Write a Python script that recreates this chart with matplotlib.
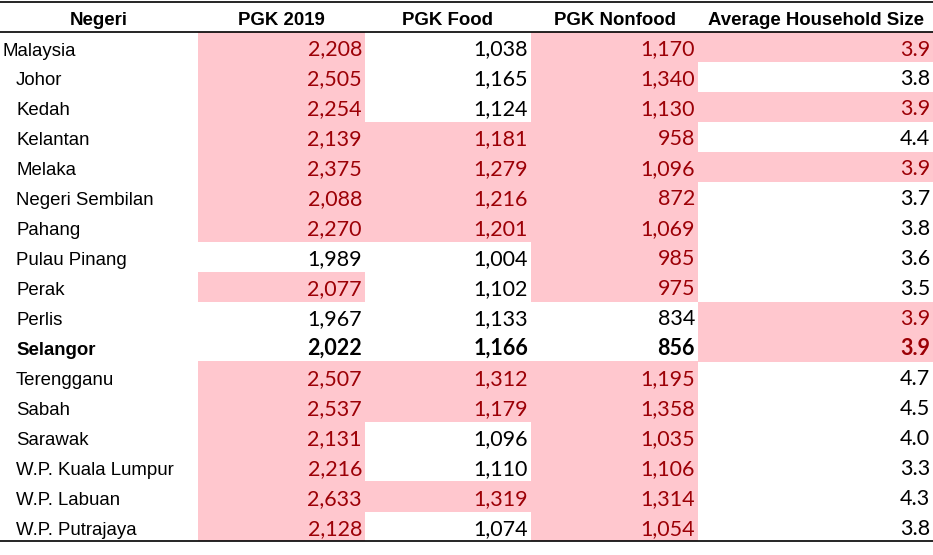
import matplotlib
matplotlib.use("Agg")
import matplotlib.pyplot as plt
from matplotlib.patches import Rectangle

# table data
negeri = ["Malaysia", "Johor", "Kedah", "Kelantan", "Melaka", "Negeri Sembilan",
          "Pahang", "Pulau Pinang", "Perak", "Perlis", "Selangor", "Terengganu",
          "Sabah", "Sarawak", "W.P. Kuala Lumpur", "W.P. Labuan", "W.P. Putrajaya"]
pgk_2019 = [2208, 2505, 2254, 2139, 2375, 2088, 2270, 1989, 2077, 1967, 2022,
            2507, 2537, 2131, 2216, 2633, 2128]
pgk_food = [1038, 1165, 1124, 1181, 1279, 1216, 1201, 1004, 1102, 1133, 1166,
            1312, 1179, 1096, 1110, 1319, 1074]
pgk_nonfood = [1170, 1340, 1130, 958, 1096, 872, 1069, 985, 975, 834, 856,
               1195, 1358, 1035, 1106, 1314, 1054]
hh_size = [3.9, 3.8, 3.9, 4.4, 3.9, 3.7, 3.8, 3.6, 3.5, 3.9, 3.9,
           4.7, 4.5, 4.0, 3.3, 4.3, 3.8]
headers = ["Negeri", "PGK 2019", "PGK Food", "PGK Nonfood", "Average Household Size"]
ref_state = "Selangor"

W, H = 933, 555
fig = plt.figure(figsize=(W / 100, H / 100), dpi=100)
ax = fig.add_axes([0, 0, 1, 1])
ax.set_xlim(0, W)
ax.set_ylim(H, 0)
ax.axis("off")

col_edges = [0, 198, 365, 531, 698, 933]
header_top, header_bot = 2, 31.5
row_h = 29.95
row0 = 32

pink = "#FFC7CE"
dark_red = "#9C0006"
num_font = ["Lato", "DejaVu Sans"]
name_font = ["Liberation Sans", "DejaVu Sans"]

# header
for i, h in enumerate(headers):
    cx = (col_edges[i] + col_edges[i + 1]) / 2
    ax.text(cx, 25, h, ha="center", va="baseline",
            fontsize=13.4, fontweight="bold", family=name_font)

ax.plot([0, W], [header_top, header_top], color="black", lw=1.2)
ax.plot([0, W], [header_bot, header_bot], color="black", lw=1.2)

ref = negeri.index(ref_state)
columns = [
    (pgk_2019, lambda v: f"{v:,}", lambda v: v > pgk_2019[ref]),
    (pgk_food, lambda v: f"{v:,}", lambda v: v > pgk_food[ref]),
    (pgk_nonfood, lambda v: f"{v:,}", lambda v: v > pgk_nonfood[ref]),
    (hh_size, lambda v: f"{v:.1f}", lambda v: v == hh_size[ref]),
]

for r, name in enumerate(negeri):
    top = row0 + r * row_h
    base = top + 23.5
    bold = "bold" if name == ref_state else "normal"
    x_name = 3 if r == 0 else 16
    ax.text(x_name, base, name, ha="left", va="baseline", fontsize=13.4,
            family=name_font, fontweight=bold)
    for c, (vals, fmt, rule) in enumerate(columns):
        v = vals[r]
        x0, x1 = col_edges[c + 1], col_edges[c + 2]
        hl = rule(v)
        if hl:
            ax.add_patch(Rectangle((x0, top), x1 - x0, row_h + 0.3,
                                   facecolor=pink, edgecolor="none", zorder=0))
        ax.text(x1 - 3, base, fmt(v), ha="right", va="baseline", fontsize=15.5,
                family=num_font, fontweight=bold,
                color=dark_red if hl else "black")

bottom = row0 + len(negeri) * row_h
ax.plot([0, W], [bottom, bottom], color="black", lw=1.2)

fig.savefig("out.png", dpi=100)
